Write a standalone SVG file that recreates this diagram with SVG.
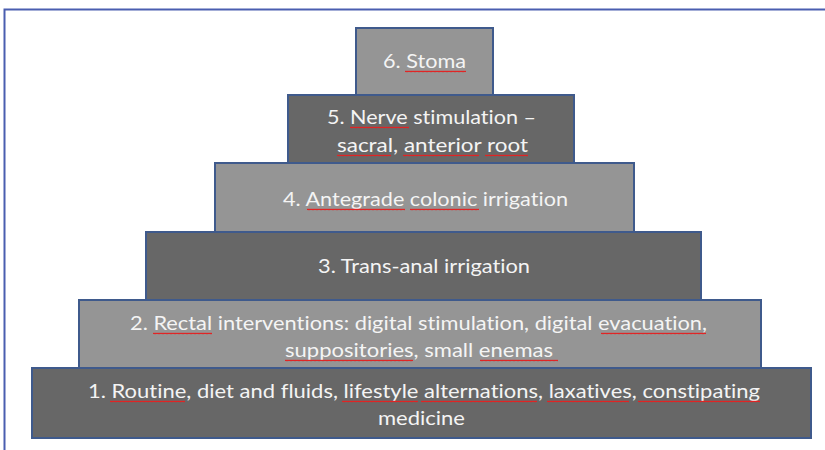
<svg xmlns="http://www.w3.org/2000/svg" width="825" height="450" viewBox="0 0 825 450">
<defs>
<pattern id="wave" patternUnits="userSpaceOnUse" width="4" height="3">
<path d="M0,2.2 L1,0.8 L2,2.2 L3,0.8 L4,2.2" fill="none" stroke="#e02424" stroke-width="1"/>
</pattern>
</defs>
<style>
.frame{fill:none;stroke:#4a5eb0;stroke-width:2}
.lt{fill:#959595;stroke:#3f5a8c;stroke-width:2}
.dk{fill:#676767;stroke:#3f5a8c;stroke-width:2}
.t{font-family:Lato,"Open Sans","Liberation Sans",sans-serif;font-size:19px;fill:#f4f4f4;font-variant-ligatures:none}
.sq{fill:url(#wave)}
</style>
<rect width="825" height="450" fill="#ffffff"/>
<rect class="frame" x="4.5" y="9.5" width="840" height="460"/>
<g id="connectors"/>
<g id="level1">
<rect class="dk" x="32" y="368" width="779" height="70"/>
<text class="t" x="88" y="398" textLength="672" lengthAdjust="spacingAndGlyphs">1. Routine, diet and fluids, lifestyle alternations, laxatives, constipating</text>
<text class="t" x="378" y="425" textLength="87" lengthAdjust="spacingAndGlyphs">medicine</text>
<rect class="sq" x="0" y="0" width="75" height="3" transform="translate(110,400)"/>
<rect class="sq" x="0" y="0" width="76" height="3" transform="translate(342,400)"/>
<rect class="sq" x="0" y="0" width="116" height="3" transform="translate(421,400)"/>
<rect class="sq" x="0" y="0" width="82" height="3" transform="translate(547,400)"/>
<rect class="sq" x="0" y="0" width="122" height="3" transform="translate(638,400)"/>
</g>
<g id="level2">
<rect class="lt" x="79" y="300" width="682" height="68"/>
<text class="t" x="130" y="330" textLength="577" lengthAdjust="spacingAndGlyphs">2. Rectal interventions: digital stimulation, digital evacuation,</text>
<text class="t" x="285" y="357" textLength="268" lengthAdjust="spacingAndGlyphs">suppositories, small enemas</text>
<rect class="sq" x="0" y="0" width="59" height="3" transform="translate(153,332)"/>
<rect class="sq" x="0" y="0" width="105" height="3" transform="translate(601,332)"/>
<rect class="sq" x="0" y="0" width="128" height="3" transform="translate(285,359)"/>
<rect class="sq" x="0" y="0" width="78" height="3" transform="translate(480,359)"/>
</g>
<g id="level3">
<rect class="dk" x="146" y="232" width="555" height="68"/>
<text class="t" x="318" y="273" textLength="212" lengthAdjust="spacingAndGlyphs">3. Trans-anal irrigation</text>
</g>
<g id="level4">
<rect class="lt" x="215" y="163" width="419" height="69"/>
<text class="t" x="283" y="206" textLength="285" lengthAdjust="spacingAndGlyphs">4. Antegrade colonic irrigation</text>
<rect class="sq" x="0" y="0" width="98" height="3" transform="translate(307,208)"/>
<rect class="sq" x="0" y="0" width="69" height="3" transform="translate(410,208)"/>
</g>
<g id="level5">
<rect class="dk" x="288" y="95" width="286" height="68"/>
<text class="t" x="327" y="124" textLength="209" lengthAdjust="spacingAndGlyphs">5. Nerve stimulation –</text>
<text class="t" x="337" y="152" textLength="191" lengthAdjust="spacingAndGlyphs">sacral, anterior root</text>
<rect class="sq" x="0" y="0" width="59" height="3" transform="translate(350,126)"/>
<rect class="sq" x="0" y="0" width="54" height="3" transform="translate(337,154)"/>
<rect class="sq" x="0" y="0" width="76" height="3" transform="translate(403,154)"/>
<rect class="sq" x="0" y="0" width="43" height="3" transform="translate(485,154)"/>
</g>
<g id="level6">
<rect class="lt" x="356" y="28" width="137" height="67"/>
<text class="t" x="383" y="68" textLength="83" lengthAdjust="spacingAndGlyphs">6. Stoma</text>
<rect class="sq" x="0" y="0" width="61" height="3" transform="translate(405,70)"/>
</g>
</svg>
